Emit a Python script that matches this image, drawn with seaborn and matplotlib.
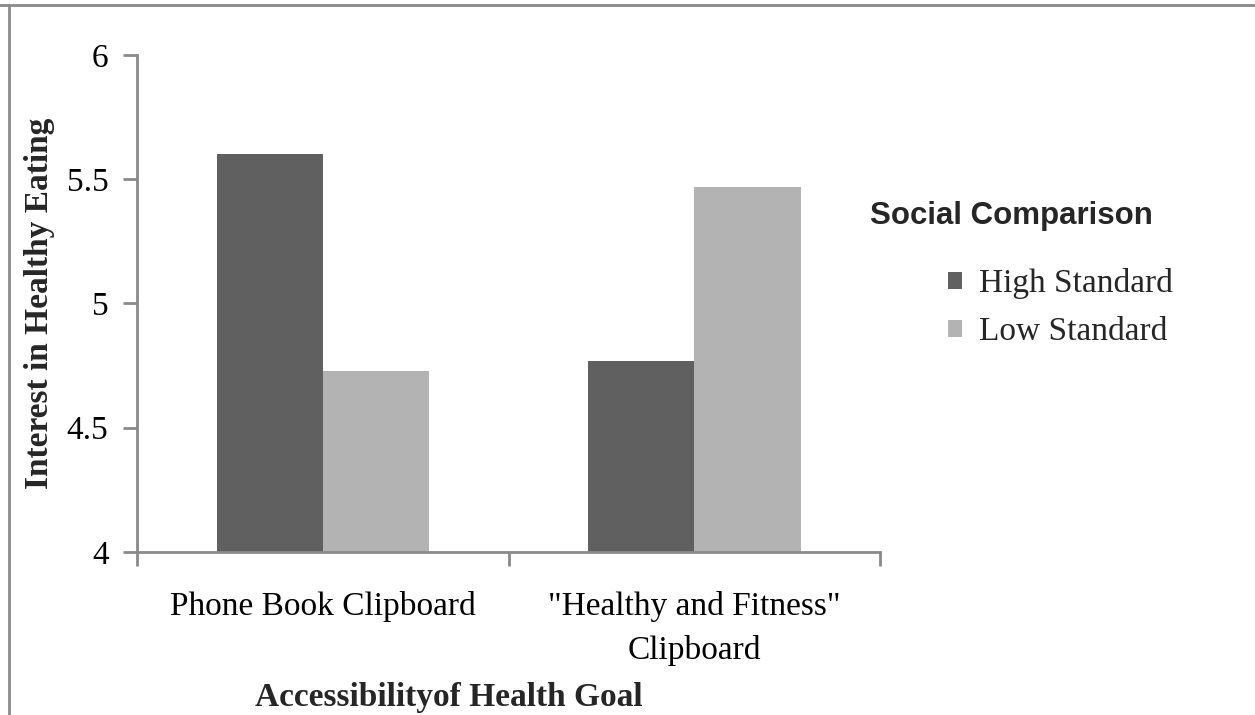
import matplotlib
matplotlib.use("Agg")
import matplotlib.pyplot as plt
from matplotlib.lines import Line2D
from matplotlib.patches import Patch
import seaborn as sns
import pandas as pd

# Mean interest in healthy eating by goal accessibility and social comparison
categories = ["Phone Book Clipboard", "\"Healthy and Fitness\"\nClipboard"]
groups = ["High Standard", "Low Standard"]
high_standard = [5.60, 4.77]
low_standard = [4.73, 5.47]
y_ticks = [4, 4.5, 5, 5.5, 6]
y_tick_labels = ["4", "4.5", "5", "5.5", "6"]

df = pd.DataFrame({
    "Accessibility": categories * 2,
    "Condition": [groups[0]] * 2 + [groups[1]] * 2,
    "Interest": high_standard + low_standard,
})

sns.set_style("white")
serif = ["Liberation Serif", "DejaVu Serif"]
palette = {"High Standard": "#606060", "Low Standard": "#b3b3b3"}
axis_grey = "#8a8a8a"
fs = 24

fig = plt.figure(figsize=(12.55, 7.15), dpi=100)
ax = fig.add_axes([0.1092, 0.228, 0.592, 0.6951])

sns.barplot(data=df, x="Accessibility", y="Interest", hue="Condition",
            order=categories, hue_order=groups, palette=palette,
            width=0.572, saturation=1, linewidth=0, ax=ax, legend=False)

ax.set_ylim(4, 6)
ax.set_xlim(-0.5, 1.5)
ax.set_yticks(y_ticks)
ax.set_yticklabels(y_tick_labels, family=serif, fontsize=fs)

# Category labels centred on groups, tick marks at group boundaries
ax.set_xticks([-0.5, 0.5, 1.5])
ax.set_xticklabels([])
ax.set_xticks([0, 1], minor=True)
ax.set_xticklabels(categories, minor=True, family=serif, fontsize=fs,
                   linespacing=1.55)
ax.tick_params(axis="x", which="major", bottom=True, length=10, width=2,
               color=axis_grey, direction="out")
ax.tick_params(axis="x", which="minor", bottom=True, length=0, pad=28)
ax.tick_params(axis="y", left=True, length=10, width=2, color=axis_grey,
               direction="out", pad=10.5)
ax.tick_params(which="both", labelcolor="black")

for side in ("top", "right"):
    ax.spines[side].set_visible(False)
for side in ("left", "bottom"):
    ax.spines[side].set_color(axis_grey)
    ax.spines[side].set_linewidth(2)

ax.set_ylabel("Interest in Healthy Eating", family=serif, fontsize=fs,
              fontweight="bold")
ax.set_xlabel("Accessibilityof Health Goal", family=serif, fontsize=fs,
              fontweight="bold")
ax.yaxis.set_label_coords(-0.1106, 0.5)
ax.xaxis.set_label_coords(0.42, -0.262)

handles = [Patch(facecolor=palette[g], edgecolor="none") for g in groups]
leg = fig.legend(handles, groups, loc="upper left",
                 bbox_to_anchor=(0.742, 0.648), frameon=False,
                 prop={"family": serif, "size": fs},
                 handlelength=0.42, handleheight=0.42, handletextpad=0.5,
                 labelspacing=0.52, borderpad=0)
fig.text(0.806, 0.698, "Social Comparison", ha="center", va="center",
         family=["Liberation Sans", "DejaVu Sans"], fontsize=22.5,
         fontweight="bold")

# Frame lines along the top and left of the figure
fig.add_artist(Line2D([0, 1], [0.9937, 0.9937], transform=fig.transFigure,
                      color=axis_grey, linewidth=2))
fig.add_artist(Line2D([0.0068, 0.0068], [0, 0.9937], transform=fig.transFigure,
                      color=axis_grey, linewidth=2))

fig.savefig("out.png", dpi=100, facecolor="white")
